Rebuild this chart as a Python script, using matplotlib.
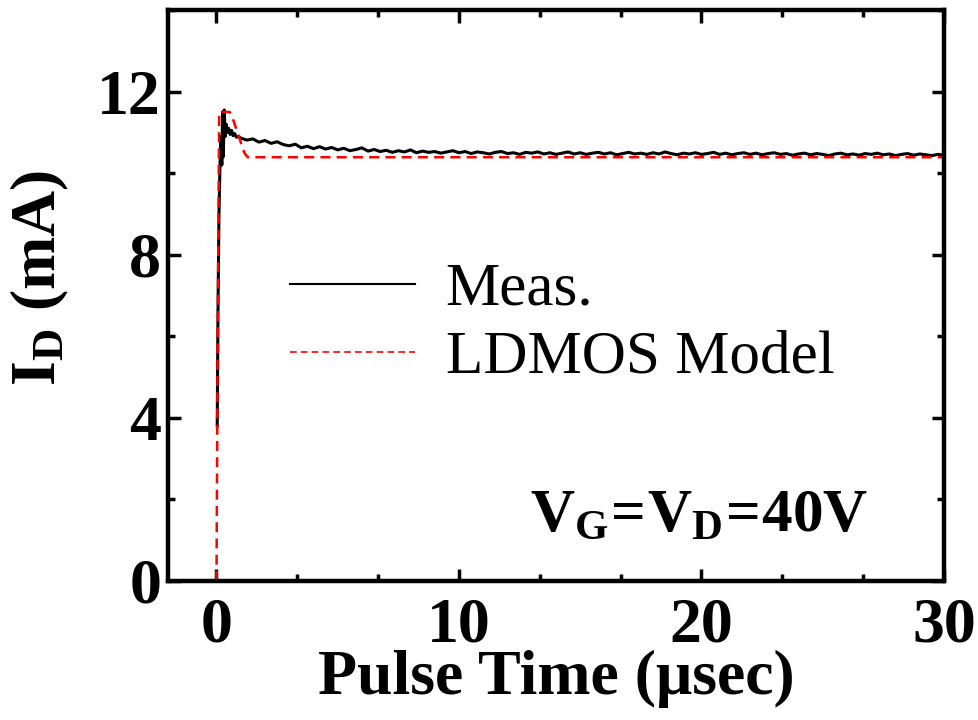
import matplotlib.pyplot as plt
from matplotlib.ticker import MultipleLocator
import numpy as np

plt.rcParams['font.family'] = ['Liberation Serif', 'DejaVu Serif']
plt.rcParams['mathtext.fontset'] = 'custom'
plt.rcParams['mathtext.rm'] = 'Liberation Serif'
plt.rcParams['mathtext.bf'] = 'Liberation Serif:bold'
plt.rcParams['mathtext.it'] = 'Liberation Serif:italic'

# measured drain current, first microsecond (turn-on spike)
meas_t_early = [0.0, 0.01, 0.03, 0.06, 0.10, 0.14, 0.18, 0.22, 0.25, 0.28, 0.32,
                0.36, 0.40, 0.45, 0.50, 0.56, 0.62, 0.68, 0.75, 0.82, 0.90]
meas_i_early = [0.2, np.nan, 3.8, 6.5, 8.9, 10.1, 10.9, 10.2, 11.5, 10.4, 11.55,
                10.9, 11.2, 11.0, 11.1, 10.95, 11.05, 10.92, 10.97, 10.88, 10.9]

# measured drain current, 1 us .. 30 us, sampled every 0.25 us
meas_step = 0.25
meas_i_late = [
    10.86, 10.81, 10.84, 10.76, 10.80, 10.73, 10.77, 10.70,
    10.67, 10.71, 10.62, 10.66, 10.60, 10.65, 10.59, 10.63,
    10.57, 10.61, 10.55, 10.58, 10.62, 10.54, 10.58, 10.53,
    10.56, 10.51, 10.55, 10.52, 10.57, 10.50, 10.54, 10.51,
    10.53, 10.49, 10.52, 10.55, 10.50, 10.53, 10.48, 10.52,
    10.50, 10.47, 10.51, 10.53, 10.48, 10.50, 10.46, 10.51,
    10.49, 10.52, 10.47, 10.50, 10.46, 10.49, 10.52, 10.47,
    10.50, 10.46, 10.49, 10.51, 10.47, 10.50, 10.45, 10.48,
    10.51, 10.47, 10.49, 10.46, 10.50, 10.47, 10.52, 10.48,
    10.45, 10.49, 10.47, 10.50, 10.46, 10.48, 10.51, 10.46,
    10.49, 10.45, 10.48, 10.50, 10.46, 10.49, 10.45, 10.48,
    10.50, 10.46, 10.48, 10.44, 10.47, 10.49, 10.45, 10.48,
    10.46, 10.43, 10.47, 10.49, 10.45, 10.47, 10.44, 10.48,
    10.46, 10.49, 10.45, 10.47, 10.43, 10.46, 10.48, 10.44,
    10.47, 10.45, 10.43, 10.46, 10.44,
]

# LDMOS model
model_t = [0.0, 0.05, 0.11, 0.54, 0.65, 0.75, 0.85, 0.95, 1.05, 1.15, 1.28, 30.0]
model_i = [0.0, 6.0, 11.5, 11.5, 11.38, 11.2, 11.02, 10.85, 10.66, 10.5, 10.39, 10.39]

meas_t = np.concatenate([meas_t_early,
                         1.0 + meas_step * np.arange(len(meas_i_late))])
meas_i = np.concatenate([meas_i_early, meas_i_late])

fig = plt.figure(figsize=(9.79, 7.2), dpi=100)
ax = fig.add_axes([0.1716, 0.1931, 0.7926, 0.793])

ax.plot(meas_t, meas_i, color='black', lw=2.2, label='Meas.')
ax.plot(model_t, model_i, color='red', lw=1.8, dashes=(4, 2.5), label='LDMOS Model')

ax.set_xlim(-2, 30)
ax.set_ylim(0, 14)
ax.xaxis.set_major_locator(MultipleLocator(10))
ax.xaxis.set_minor_locator(MultipleLocator(10 / 3))
ax.yaxis.set_major_locator(MultipleLocator(4))
ax.yaxis.set_minor_locator(MultipleLocator(2))

for s in ax.spines.values():
    s.set_linewidth(3.2)
ax.tick_params(which='both', direction='in', top=True, right=True, width=2.5)
ax.tick_params(which='major', length=9, labelsize=46)
ax.tick_params(which='minor', length=5)
ax.tick_params(axis='x', pad=12)
ax.tick_params(axis='y', pad=5)
for lab in ax.get_xticklabels() + ax.get_yticklabels():
    lab.set_fontweight('bold')

ax.set_xlabel('Pulse Time (μsec)', fontsize=46, fontweight='bold', labelpad=-4)
ax.set_ylabel(r'$\mathbf{I_D}$ (mA)', fontsize=46, fontweight='bold', labelpad=2)
ax.yaxis.set_label_coords(-0.125, 0.53)

leg = ax.legend(loc='center left', bbox_to_anchor=(0.157, 0.45), frameon=False,
                fontsize=44, handlelength=2.05, handletextpad=0.5,
                labelspacing=0.2, borderpad=0, borderaxespad=0)
leg.get_lines()[0].set_linewidth(1.5)
leg.get_lines()[1].set_linewidth(1.2)

ax.text(0.466, 0.089, r'$\mathbf{V_G\!=\!V_D\!=\!40V}$', transform=ax.transAxes,
        fontsize=44, ha='left', va='baseline')

fig.savefig('out.png', dpi=100)
